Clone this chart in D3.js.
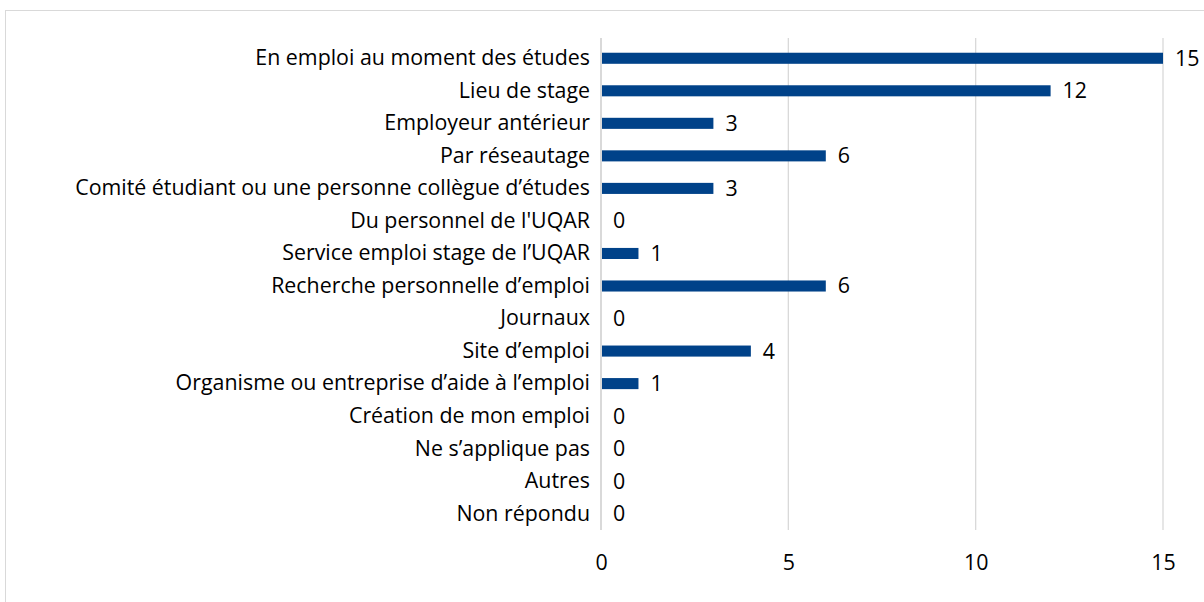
<!DOCTYPE html>
<html><head><meta charset="utf-8">
<script src="https://cdn.jsdelivr.net/npm/d3@7/dist/d3.min.js"></script>
<style>
html,body{margin:0;padding:0;background:#fff;overflow:hidden}
text{font-family:"Open Sans",Lato,sans-serif;fill:#000}
</style></head>
<body><svg id="c" width="1204" height="602"></svg>
<script>
const categories = [
  "En emploi au moment des études",
  "Lieu de stage",
  "Employeur antérieur",
  "Par réseautage",
  "Comité étudiant ou une personne collègue d’études",
  "Du personnel de l'UQAR",
  "Service emploi stage de l’UQAR",
  "Recherche personnelle d’emploi",
  "Journaux",
  "Site d’emploi",
  "Organisme ou entreprise d’aide à l’emploi",
  "Création de mon emploi",
  "Ne s’applique pas",
  "Autres",
  "Non répondu"
];
const values = [15, 12, 3, 6, 3, 0, 1, 6, 0, 4, 1, 0, 0, 0, 0];
const tickValues = [0, 5, 10, 15];

const svg = d3.select("#c");
svg.append("rect").attr("x",5.5).attr("y",10.5).attr("width",1220).attr("height",620)
  .attr("fill","none").attr("stroke","#d9d9d9").attr("stroke-width",1);

const x = d3.scaleLinear().domain([0,15]).range([601,1163]);
const y = d3.scaleBand().domain(categories).range([42,530]).paddingInner(0.66).paddingOuter(0.33);

// measure font size so widest label spans ~515px
const probe = svg.append("text").attr("font-size","16px").text(categories[4]);
const w16 = probe.node().getComputedTextLength();
probe.remove();
const fs = Math.min(22, 16 * 515 / w16);

const grid = svg.append("g");
grid.selectAll("line").data(tickValues.slice(1)).join("line")
  .attr("x1",d=>x(d)).attr("x2",d=>x(d)).attr("y1",38).attr("y2",530)
  .attr("stroke","#d9d9d9").attr("stroke-width",1.3);

const xAxis = d3.axisBottom(x).tickValues(tickValues).tickSize(0).tickPadding(0);
const gx = svg.append("g").attr("transform","translate(0,555)").call(xAxis);
gx.select(".domain").remove();
gx.selectAll("text").attr("font-size",fs+"px").attr("dy","0.71em").style("font-family","'Open Sans', sans-serif").attr("fill","#000");

svg.selectAll("rect.bar").data(values).join("rect").attr("class","bar")
  .attr("x",x(0)).attr("y",(d,i)=>y(categories[i]))
  .attr("width",d=>x(d)-x(0)).attr("height",y.bandwidth())
  .attr("fill","#004289");

svg.append("line").attr("x1",x(0)).attr("x2",x(0)).attr("y1",38).attr("y2",530)
  .attr("stroke","#d9d9d9").attr("stroke-width",2);

const yAxis = d3.axisLeft(y).tickSize(0).tickPadding(0);
const gy = svg.append("g").attr("transform","translate(590,0)").call(yAxis);
gy.select(".domain").remove();
gy.selectAll("text").attr("font-size",fs+"px").style("font-family","'Open Sans', sans-serif").attr("fill","#000");

svg.selectAll("text.val").data(values).join("text").attr("class","val")
  .attr("x",d=>x(d)+12).attr("y",(d,i)=>y(categories[i])+y.bandwidth()/2)
  .attr("dy","0.35em").attr("font-size",fs+"px").text(d=>d);
</script></body></html>
